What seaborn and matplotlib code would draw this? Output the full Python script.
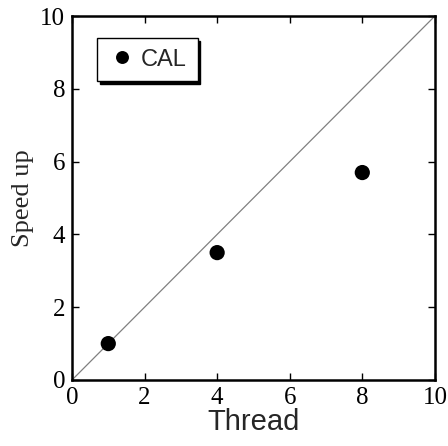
import seaborn as sns
import pandas as pd
import matplotlib.pyplot as plt

threads = [1, 4, 8]
speedup = [1.0, 3.5, 5.7]
series = ['CAL', 'CAL', 'CAL']

df = pd.DataFrame({'Thread': threads, 'Speed up': speedup, 'series': series})

sns.set_style('ticks')
plt.rcParams['font.family'] = ['Liberation Serif', 'DejaVu Serif']

fig = plt.figure(figsize=(4.48, 4.46), dpi=100)
ax = fig.add_axes([0.1607, 0.148, 0.81, 0.816])

# ideal speedup reference line
ax.axline((0, 0), slope=1, color='#808080', lw=0.9, zorder=1)

sns.scatterplot(data=df, x='Thread', y='Speed up', hue='series',
                palette=['black'], s=120, edgecolor='black', linewidth=0,
                ax=ax, zorder=3)

ax.set_xlim(0, 10)
ax.set_ylim(0, 10)
ax.set_xticks([0, 2, 4, 6, 8, 10])
ax.set_yticks([0, 2, 4, 6, 8, 10])
ax.tick_params(direction='in', length=5, width=1, top=True, right=True,
               labelsize=18, pad=5, colors='black')
for sp in ax.spines.values():
    sp.set_linewidth(1.8)
    sp.set_color('black')

ax.set_xlabel('Thread', family=['Liberation Sans', 'DejaVu Sans'],
              fontsize=21, labelpad=-1)
ax.set_ylabel('Speed up', fontsize=19, labelpad=4)

leg = ax.legend(loc='upper left', bbox_to_anchor=(0.07, 0.94), frameon=True,
                fancybox=False, shadow={'color': 'black', 'alpha': 1},
                prop={'family': ['Liberation Sans', 'DejaVu Sans'], 'size': 17},
                handletextpad=0.2, handlelength=1.2, borderpad=0.45,
                borderaxespad=0, markerscale=0.85)
leg.get_frame().set_edgecolor('black')
leg.get_frame().set_linewidth(1.0)

fig.savefig('out.png', dpi=100)
